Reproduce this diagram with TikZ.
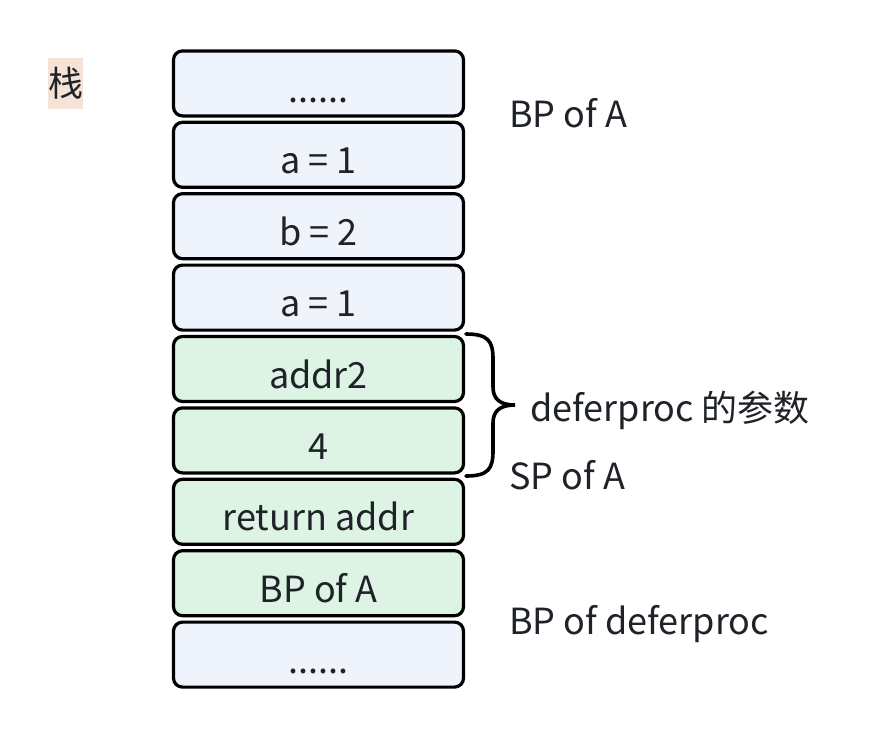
\documentclass[tikz,border=0pt]{standalone}
\usepackage{fontspec}
\setmainfont{Noto Sans CJK SC}
\definecolor{txt}{HTML}{1F2329}
\definecolor{bluefill}{HTML}{EEF3FC}
\definecolor{greenfill}{HTML}{DDF4E4}
\definecolor{peach}{HTML}{F5E3D7}
\begin{document}
\begin{tikzpicture}[x=1pt,y=-1pt,
  cell/.style={draw=black,line width=3.2pt,rounded corners=9pt,minimum width=290pt,minimum height=65pt,inner sep=0pt,text height=45pt,text depth=7pt,font=\fontsize{36pt}{42pt}\selectfont,text=txt},
  bcell/.style={cell,fill=bluefill},
  gcell/.style={cell,fill=greenfill},
  side/.style={anchor=base west,inner sep=0pt,font=\fontsize{36pt}{42pt}\selectfont,text=txt}]
\useasboundingbox (0,0) rectangle (878,740);
\node[bcell] (r0) at (318.5,83.4) {......};
\node[bcell] (r1) at (318.5,154.8) {a = 1};
\node[bcell] (r2) at (318.5,226.2) {b = 2};
\node[bcell] (r3) at (318.5,297.6) {a = 1};
\node[gcell] (r4) at (318.5,369.0) {addr2};
\node[gcell] (r5) at (318.5,440.4) {4};
\node[gcell] (r6) at (318.5,511.8) {return addr};
\node[gcell] (r7) at (318.5,583.2) {BP of A};
\node[bcell] (r8) at (318.5,654.6) {......};
\node[fill=peach,minimum width=35pt,minimum height=51pt,inner sep=0pt,text=txt,font=\fontsize{35pt}{40pt}\selectfont] (stack) at (65.5,83.5) {栈};
\node[side] (bpa) at (509,127) {BP of A};
\node[side] (spa) at (509,489) {SP of A};
\node[side] (bpd) at (509,634) {BP of deferproc};
\node[side] (dp) at (530,421) {deferproc 的参数};
\coordinate (bt) at (466,334);
\coordinate (bb) at (466,476);
\draw[line width=3.6pt,line cap=round] (bt) .. controls (488,334) and (493,341) .. (493,359) -- (493,387) .. controls (493,399) and (500,405) .. (515,405) .. controls (500,405) and (493,411) .. (493,423) -- (493,451) .. controls (493,469) and (488,476) .. (bb);
\end{tikzpicture}
\end{document}
